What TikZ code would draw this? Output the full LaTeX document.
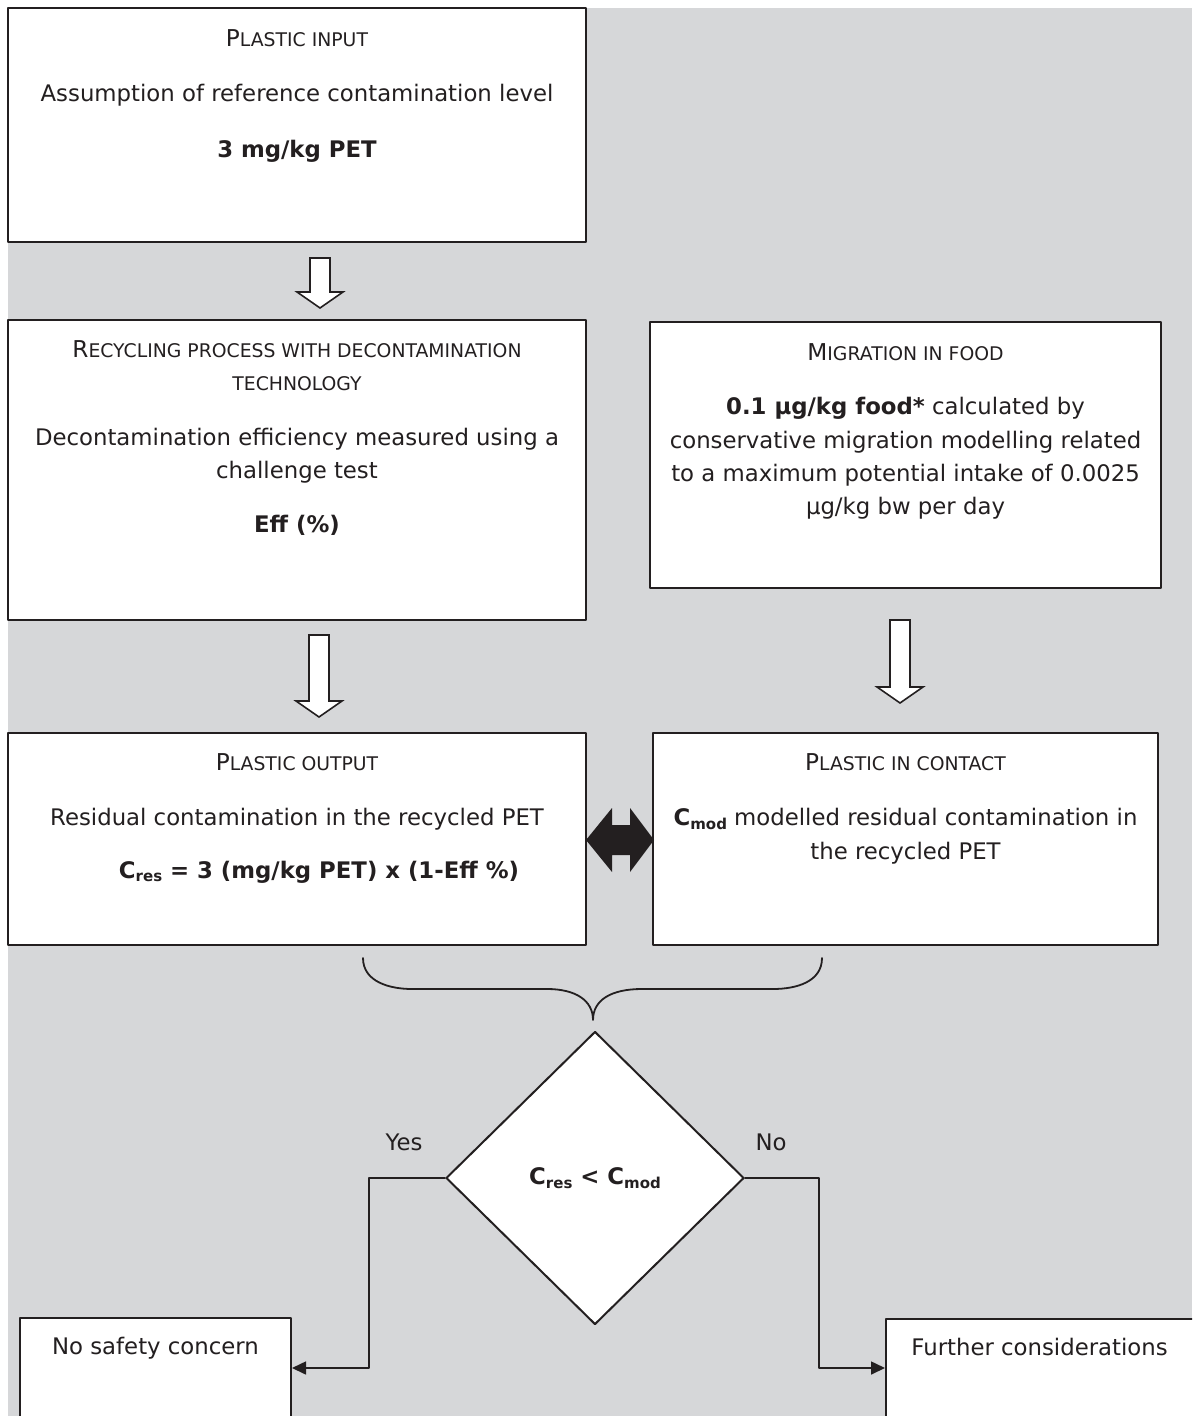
\documentclass[tikz,border=0pt]{standalone}
\usepackage{fontspec}
\setmainfont{DejaVu Sans}
\usetikzlibrary{shapes.geometric,arrows.meta,positioning,calc}
\definecolor{bggray}{RGB}{214,215,217}
\definecolor{ink}{RGB}{35,31,32}
% fake small caps and subscripts
\newcommand\smc[2]{{\fontsize{11.6}{16.7}\selectfont #1}{\fontsize{9.4}{16.7}\selectfont #2}}
\newcommand\lowsub[1]{\raisebox{-0.3ex}{\fontsize{7.5}{9}\selectfont #1}}
\newcommand\blockdown[3]{% x, top, tip
  \draw[hollow] ({#1-10},#2) -- ({#1+10},#2) -- ({#1+10},{#3-16}) -- ({#1+23},{#3-16})
    -- (#1,#3) -- ({#1-23},{#3-16}) -- ({#1-10},{#3-16}) -- cycle;}
\tikzset{
  box/.style={draw=ink, line width=1pt, fill=white, inner sep=0pt},
  txt/.style={text=ink, align=center, inner sep=0pt, font=\fontsize{11.4}{16.7}\selectfont},
  hollow/.style={draw=ink, line width=0.8pt, fill=white, line join=miter},
  conn/.style={draw=ink, line width=0.8pt, -{Triangle[length=7pt,width=6.5pt]}},
}
\begin{document}
\begin{tikzpicture}[x=0.5pt, y=-0.5pt, line join=round, line cap=round]
	\useasboundingbox (0,0) rectangle (1192,1416);
	\clip (0,0) rectangle (1192,1416);
	\fill[bggray] (8,8) rectangle (1192,1416);
	% boxes
	\node[box, minimum width=289pt, minimum height=117pt] (input) at (297,125) {};
	\node[box, minimum width=289pt, minimum height=150pt] (recyc) at (297,470) {};
	\node[box, minimum width=255.5pt, minimum height=133pt] (migr) at (905.5,455) {};
	\node[box, minimum width=289pt, minimum height=106pt] (output) at (297,839) {};
	\node[box, minimum width=252.5pt, minimum height=106pt] (contact) at (905.5,839) {};
	\node[box, shape=diamond, minimum width=149pt, minimum height=146.5pt] (dec) at (595,1178) {};
	\node[box, minimum width=135.5pt, minimum height=50pt] (nosafe) at (155.5,1368) {};
	\node[box, minimum width=160pt, minimum height=49pt] (further) at (1046,1368) {};
	% texts
	\node[txt, anchor=north] (inputtxt) at ($(input.north)+(0,22)$)
		{\smc{P}{LASTIC INPUT}\\[11pt]
		 Assumption of reference contamination level\\[11pt]
		 \textbf{3 mg/kg PET}};
	\node[txt, anchor=north] (recyctxt) at ($(recyc.north)+(0,21)$)
		{\smc{R}{ECYCLING PROCESS WITH DECONTAMINATION}\\
		 \smc{}{TECHNOLOGY}\\[10.5pt]
		 Decontamination efficiency measured using a\\
		 challenge test\\[10.5pt]
		 \textbf{Eff (\%)}};
	\node[txt, anchor=north] (migrtxt) at ($(migr.north)+(0,22)$)
		{\smc{M}{IGRATION IN FOOD}\\[10.5pt]
		 \textbf{0.1 µg/kg food*} calculated by\\
		 conservative migration modelling related\\
		 to a maximum potential intake of 0.0025\\
		 µg/kg bw per day};
	\node[txt, anchor=north] (outputtxt) at ($(output.north)+(0,21)$)
		{\smc{P}{LASTIC OUTPUT}\\[11pt]
		 Residual contamination in the recycled PET\\[9.5pt]
		 \hspace*{22pt}\textbf{C\lowsub{res} = 3 (mg/kg PET) x (1-Eff \%)}};
	\node[txt, anchor=north] (contacttxt) at ($(contact.north)+(0,21)$)
		{\smc{P}{LASTIC IN CONTACT}\\[11pt]
		 \textbf{C\lowsub{mod}} modelled residual contamination in\\
		 the recycled PET};
	\node[txt] (dectxt) at (595,1178) {\textbf{C\lowsub{res} < C\lowsub{mod}}};
	\node[txt, anchor=base] (nosafetxt) at ($(nosafe.north)+(0,37)$) {No safety concern};
	\node[txt, anchor=base west] (furthertxt) at ($(further.north west)+(26,37)$) {Further considerations};
	\node[txt, anchor=base] (yes) at (404,1150) {Yes};
	\node[txt, anchor=base] (no) at (771,1150) {No};
	% hollow arrows
	\blockdown{320}{258}{308}
	\blockdown{319}{635}{717}
	\blockdown{900}{620}{703}
	% double arrow
	\fill[ink] (586,840) -- (612,808) -- (612,825) -- (630,825) -- (630,808) -- (654,840)
		-- (630,872) -- (630,855) -- (612,855) -- (612,872) -- cycle;
	% brace
	\draw[ink, line width=0.9pt] (363,958) .. controls (363,982) and (390,989) .. (412,989)
		-- (547,989) .. controls (575,989) and (593,1000) .. (593,1020)
		.. controls (593,1000) and (611,989) .. (642,989) -- (773,989)
		.. controls (796,989) and (822,982) .. (822,958);
	% decisions
	\draw[conn] (dec.west) -- ++(-76,0) |- (nosafe.east);
	\draw[conn] (dec.east) -- ++(74,0) |- (further.west);
\end{tikzpicture}
\end{document}
